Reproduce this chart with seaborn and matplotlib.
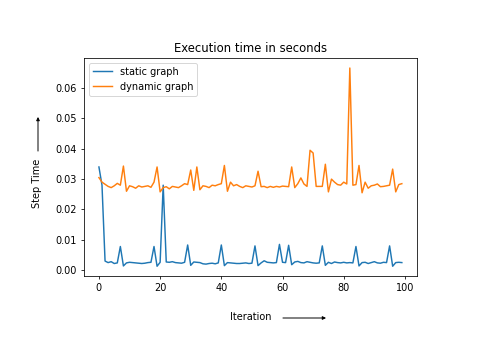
import numpy as np
import matplotlib
matplotlib.use('Agg')
import matplotlib.pyplot as plt
import seaborn as sns

# step times, one value per iteration
static_times = [
    0.0340, 0.0280, 0.0030, 0.0025, 0.0028, 0.0022, 0.0024, 0.0078, 0.0014, 0.0024,
    0.0026, 0.0025, 0.0024, 0.0023, 0.0022, 0.0023, 0.0025, 0.0026, 0.0078, 0.0013,
    0.0026, 0.0280, 0.0027, 0.0026, 0.0028, 0.0025, 0.0024, 0.0023, 0.0026, 0.0083,
    0.0016, 0.0027, 0.0026, 0.0025, 0.0021, 0.0020, 0.0022, 0.0023, 0.0021, 0.0024,
    0.0083, 0.0015, 0.0025, 0.0024, 0.0023, 0.0022, 0.0022, 0.0023, 0.0024, 0.0022,
    0.0023, 0.0080, 0.0015, 0.0024, 0.0031, 0.0026, 0.0025, 0.0024, 0.0025, 0.0085,
    0.0026, 0.0025, 0.0082, 0.0018, 0.0027, 0.0029, 0.0025, 0.0024, 0.0028, 0.0026,
    0.0024, 0.0023, 0.0024, 0.0080, 0.0016, 0.0026, 0.0022, 0.0027, 0.0025, 0.0024,
    0.0026, 0.0024, 0.0025, 0.0024, 0.0078, 0.0014, 0.0025, 0.0026, 0.0022, 0.0025,
    0.0028, 0.0024, 0.0023, 0.0026, 0.0025, 0.0080, 0.0013, 0.0025, 0.0026, 0.0025,
]
dynamic_times = [
    0.0305, 0.0290, 0.0283, 0.0276, 0.0272, 0.0278, 0.0286, 0.0280, 0.0343, 0.0260,
    0.0278, 0.0275, 0.0270, 0.0278, 0.0274, 0.0276, 0.0278, 0.0273, 0.0290, 0.0340,
    0.0258, 0.0272, 0.0275, 0.0268, 0.0276, 0.0274, 0.0272, 0.0278, 0.0285, 0.0282,
    0.0330, 0.0263, 0.0340, 0.0265, 0.0278, 0.0276, 0.0272, 0.0280, 0.0278, 0.0282,
    0.0285, 0.0345, 0.0260, 0.0290, 0.0278, 0.0282, 0.0276, 0.0272, 0.0278, 0.0276,
    0.0274, 0.0278, 0.0326, 0.0275, 0.0276, 0.0272, 0.0276, 0.0273, 0.0276, 0.0274,
    0.0277, 0.0276, 0.0275, 0.0340, 0.0272, 0.0285, 0.0304, 0.0284, 0.0276, 0.0395,
    0.0386, 0.0276, 0.0276, 0.0276, 0.0349, 0.0258, 0.0300, 0.0290, 0.0282, 0.0280,
    0.0290, 0.0284, 0.0666, 0.0280, 0.0282, 0.0345, 0.0255, 0.0290, 0.0270, 0.0278,
    0.0280, 0.0284, 0.0275, 0.0276, 0.0278, 0.0280, 0.0333, 0.0258, 0.0282, 0.0285,
]
iterations = np.arange(len(static_times))

fig, ax = plt.subplots(figsize=(7, 5), dpi=70)
fig.subplots_adjust(left=0.171, right=0.851, bottom=0.211, top=0.834)

sns.lineplot(x=iterations, y=static_times, ax=ax, label='static graph')
sns.lineplot(x=iterations, y=dynamic_times, ax=ax, label='dynamic graph')

ax.set_title('Execution time in seconds')
ax.legend(loc='upper left')

# axis labels with long arrows, placed in figure coords
fig.text(230 / 490, 1 - 317 / 350, 'Iteration', ha='left', va='center', fontsize=10)
fig.text(37 / 490, 1 - 183 / 350, 'Step Time', ha='center', va='center',
         rotation=90, fontsize=10)
arrow = dict(arrowstyle='-|>', color='black', lw=1, mutation_scale=7)
fig.add_artist(matplotlib.patches.FancyArrowPatch(
    (281 / 490, 1 - 318 / 350), (328 / 490, 1 - 318 / 350),
    transform=fig.transFigure, **arrow))
fig.add_artist(matplotlib.patches.FancyArrowPatch(
    (38 / 490, 1 - 153 / 350), (38 / 490, 1 - 115 / 350),
    transform=fig.transFigure, **arrow))

fig.savefig('out.png', dpi=70)
